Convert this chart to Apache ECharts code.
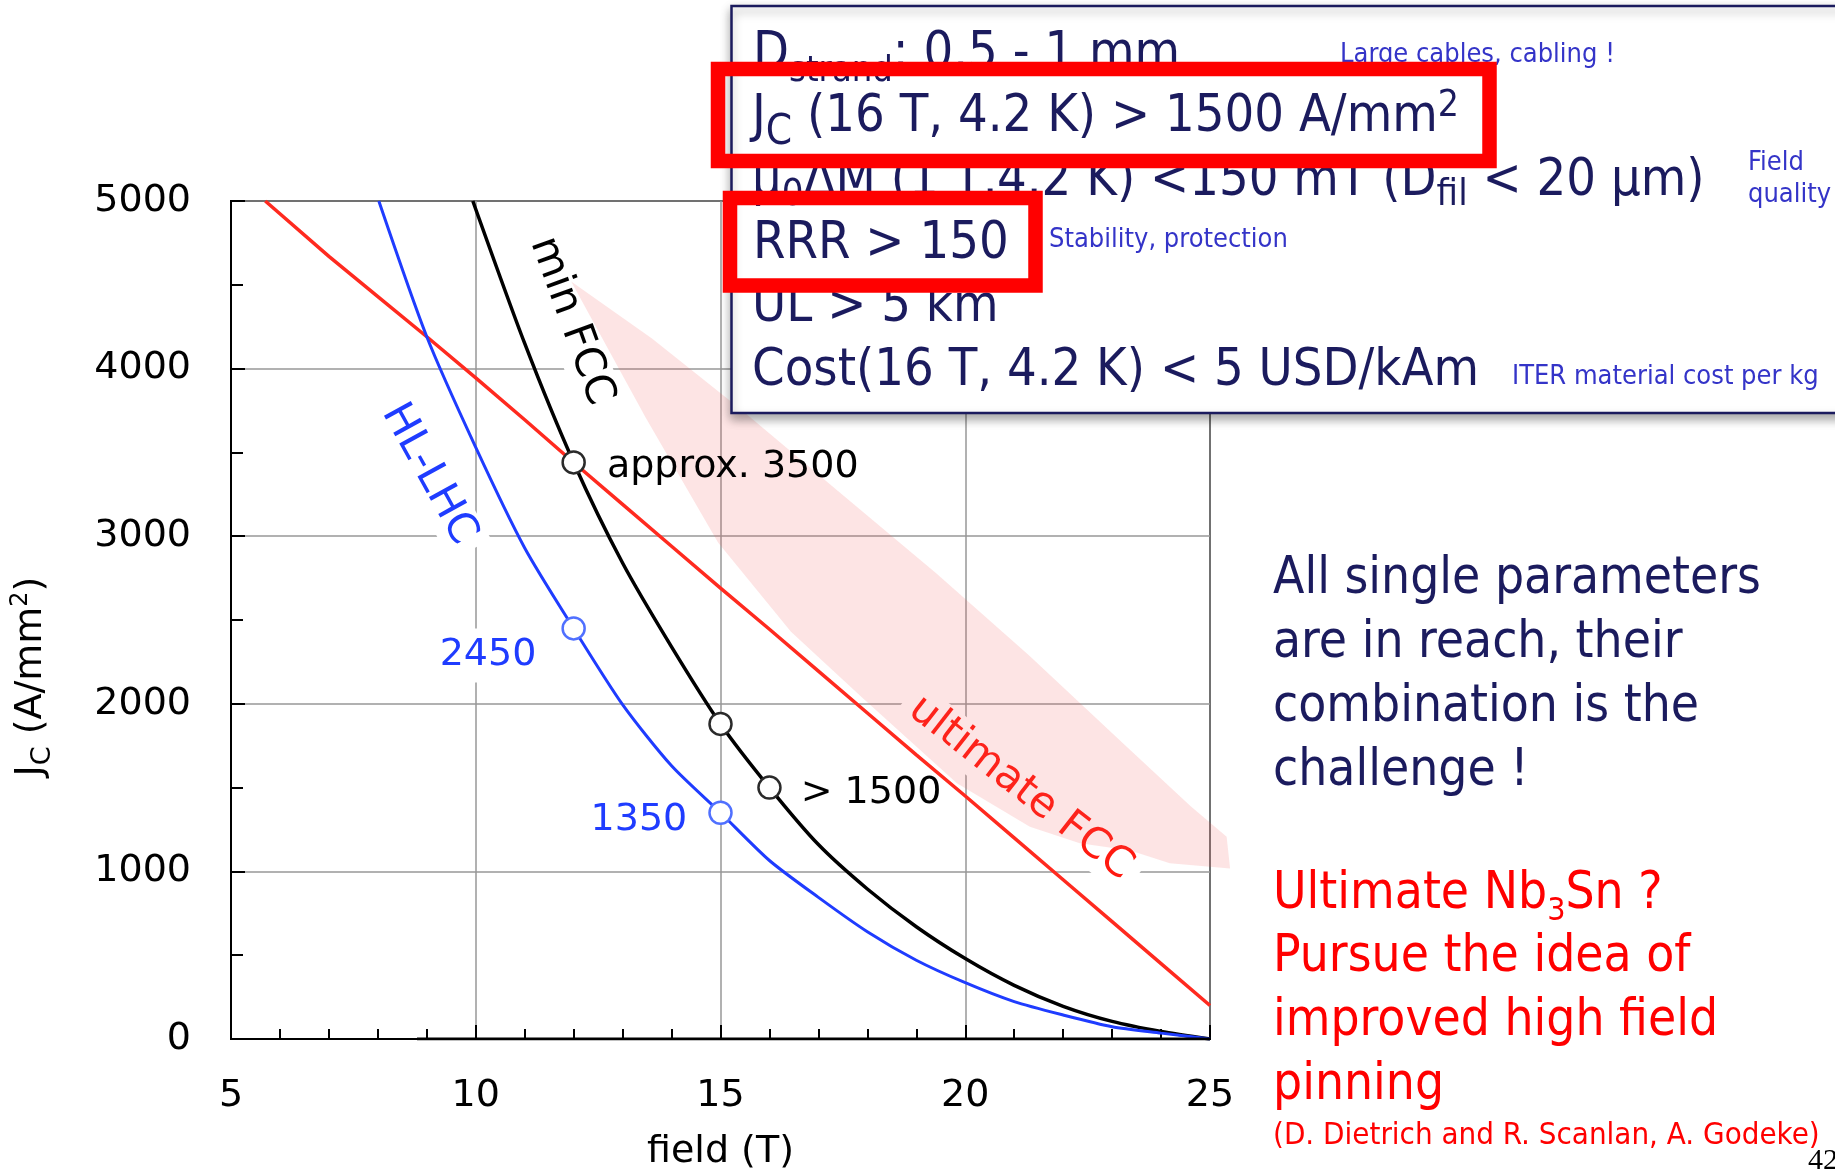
<!DOCTYPE html>
<html>
<head>
<meta charset="utf-8">
<title>Jc versus field</title>
<script src="https://cdn.jsdelivr.net/npm/echarts@6.0.0/dist/echarts.min.js"></script>
<style>
  html, body { margin: 0; padding: 0; background: #ffffff; }
  #chart { width: 1835px; height: 1173px; }
</style>
</head>
<body>
<div id="chart"></div>
<script>
// ---- data: critical current density Jc (A/mm2) versus field (T) ----
const redField   = [5.7, 7, 8, 9, 10, 11, 12, 13, 14, 15, 16, 17, 18, 19, 20, 21, 22, 23, 24, 25];
const redJc      = [5000, 4670, 4430, 4190, 3945, 3695, 3440, 3190, 2940, 2690, 2445, 2195, 1945, 1695, 1450, 1200, 950, 700, 450, 200];

const blackField = [9.94, 11, 12, 13, 14, 15, 16, 17, 18, 19, 20, 21, 22, 23, 24, 25];
const blackJc    = [5000, 4150, 3440, 2840, 2340, 1880, 1500, 1160, 895, 670, 480, 320, 195, 105, 45, 0];

const blueField  = [8.02, 9, 10, 11, 12, 13, 14, 15, 16, 17, 18, 19, 20, 21, 22, 23, 24, 25];
const blueJc     = [5000, 4190, 3530, 2930, 2450, 1995, 1630, 1350, 1065, 845, 640, 470, 336, 223, 143, 73, 35, 0];

// short trace lying on the field axis
const zeroField  = [8.8, 25];
const zeroJc     = [0, 0];

// shaded "ultimate" region (outline, clockwise from the upper tip)
const bandField  = [11.95, 13.6, 15.4, 17.4, 19.4, 21.3, 23.2, 24.6, 25.34, 25.41, 24.18, 23.37, 22.34, 21.32, 19.83, 17.92, 16.44, 14.95, 13.47];
const bandJc     = [4520, 4180, 3760, 3270, 2780, 2290, 1770, 1390, 1207, 1018, 1048, 1125, 1168, 1267, 1526, 2030, 2430, 2962, 3708];

// highlighted operating points
const blackMarkField = [12, 15, 16];
const blackMarkJc    = [3440, 1880, 1500];
const blackMarkText  = ['approx. 3500', '', '> 1500'];
const blueMarkField  = [12, 15];
const blueMarkJc     = [2450, 1350];
const blueMarkText   = ['2450', '1350'];

// curve names written along the curves
const curveNames     = ['min FCC', 'HL-LHC', 'ultimate FCC'];
const curveNameField = [11.95, 9.04, 21.13];
const curveNameJc    = [4283, 3370, 1496];

// axis ranges
const fieldRange = [5, 25, 5];
const jcRange    = [0, 5000, 1000];

// slide texts
const specNotes = ['Large cables, cabling !', 'Field', 'quality', 'Stability, protection', 'ITER material cost per kg'];
const summaryLines = ['All single parameters', 'are in reach, their', 'combination is the', 'challenge !'];
const outlookLines = ['Pursue the idea of', 'improved high field', 'pinning'];
const citation = '(D. Dietrich and R. Scanlan, A. Godeke)';
const pageNumber = '42';

// ---- drawing ----
const CHART_FONT = 'DejaVu Sans';
const SLIDE_FONT = 'DejaVu Sans Condensed';
const NAVY = '#1b1b5e';
const RED = '#ff2a1f';
const BLUE = '#1f3cff';
const NOTE_BLUE = '#3434c8';
const K = 0.3; // distance from the middle of a text line to its baseline, per px of font size

const pairs = (xs, ys) => xs.map((x, i) => [x, ys[i]]);

// rich-text styles for a main run plus optional lowered (s) / raised (p) runs
function richStyles(family, size, L, color, sub, sup) {
  const rich = { m: { fontFamily: family, fontSize: size, lineHeight: L, fill: color, color: color } };
  if (sub) {
    const h = L - 2 * K * (size - sub.size) - 2 * sub.drop;
    rich.s = { fontFamily: family, fontSize: sub.size, fill: color, color: color, verticalAlign: 'bottom', height: h, lineHeight: h };
  }
  if (sup) {
    const h = L + 2 * K * (size - sup.size) - 2 * sup.rise;
    rich.p = { fontFamily: family, fontSize: sup.size, fill: color, color: color, verticalAlign: 'top', height: h, lineHeight: h };
  }
  return rich;
}

// one line of slide text placed by its baseline; tokens: [[styleKey, text], ...]
function slideLine(x, baseline, tokens, s) {
  const L = Math.round(s.size * 2);
  return {
    type: 'text', x: x, y: baseline - (L / 2 + K * s.size), z: s.z || 101,
    style: {
      text: tokens.map(t => '{' + t[0] + '|' + t[1] + '}').join(''),
      rich: richStyles(s.family, s.size, L, s.color, s.sub, s.sup),
      align: 'left', verticalAlign: 'top'
    }
  };
}

const specStyle = { family: SLIDE_FONT, size: 52, color: NAVY, sub: { size: 42, drop: 13 }, sup: { size: 37, rise: 16 } };
const spec1Style = { family: SLIDE_FONT, size: 52, color: NAVY, sub: { size: 36, drop: 12 } };
const spec3Style = { family: SLIDE_FONT, size: 52, color: NAVY, sub: { size: 38, drop: 10 } };
const noteStyle = { family: SLIDE_FONT, size: 27, color: NOTE_BLUE };
const sumStyle  = { family: SLIDE_FONT, size: 51, color: NAVY, z: 100 };
const redStyle  = { family: SLIDE_FONT, size: 51, color: '#ff0000', z: 100, sub: { size: 32, drop: 11 } };

const graphics = [
  // specification box
  { type: 'rect', z: 99, shape: { x: 731.5, y: 6, width: 1200, height: 407 },
    style: { fill: '#ffffff', stroke: NAVY, lineWidth: 2.5, shadowBlur: 10, shadowOffsetY: 5, shadowColor: 'rgba(0,0,0,0.35)' } },
  slideLine(753, 70,  [['m', 'D'], ['s', 'strand'], ['m', ': 0.5 - 1 mm']], spec1Style),
  slideLine(752, 133, [['m', 'J'], ['s', 'C'], ['m', ' (16 T, 4.2 K) > 1500 A/mm'], ['p', '2']], specStyle),
  slideLine(752, 197, [['m', 'μ'], ['s', '0'], ['m', 'ΔM (1 T,4.2 K) <150 mT (D'], ['s', 'fil'], ['m', ' < 20 μm)']], spec3Style),
  slideLine(753, 260, [['m', 'RRR > 150']], specStyle),
  slideLine(752, 323, [['m', 'UL > 5 km']], specStyle),
  slideLine(752, 387, [['m', 'Cost(16 T, 4.2 K) < 5 USD/kAm']], specStyle),
  slideLine(1340, 63,  [['m', specNotes[0]]], noteStyle),
  slideLine(1748, 171, [['m', specNotes[1]]], noteStyle),
  slideLine(1748, 203, [['m', specNotes[2]]], noteStyle),
  slideLine(1049, 248, [['m', specNotes[3]]], noteStyle),
  slideLine(1512, 385, [['m', specNotes[4]]], noteStyle),
  // red highlight frames
  { type: 'rect', z: 102, shape: { x: 718, y: 69, width: 771.5, height: 92 },
    style: { fill: 'none', stroke: '#ff0000', lineWidth: 14.5 } },
  { type: 'rect', z: 102, shape: { x: 730, y: 198, width: 305.5, height: 87.5 },
    style: { fill: 'none', stroke: '#ff0000', lineWidth: 14.5 } },
  // conclusions on the right
  ...summaryLines.map((t, i) => slideLine(1273, 595 + i * 64, [['m', t]], sumStyle)),
  slideLine(1273, 910, [['m', 'Ultimate Nb'], ['s', '3'], ['m', 'Sn ?']], redStyle),
  ...outlookLines.map((t, i) => slideLine(1273, 973 + i * 64, [['m', t]], redStyle)),
  slideLine(1273, 1145, [['m', citation]], { family: SLIDE_FONT, size: 31, color: '#ff0000', z: 100 }),
  slideLine(1808, 1170, [['m', pageNumber]], { family: 'Liberation Serif', size: 30, color: '#000000', z: 100 })
];

const markLabel = {
  'approx. 3500': { position: 'right', distance: 21, offset: [0, 5] },
  '> 1500':       { position: 'right', distance: 19, offset: [0, 6] },
  '2450':         { position: 'left',  distance: 21, offset: [0, 27], backgroundColor: '#ffffff', padding: [8, 4] },
  '1350':         { position: 'left',  distance: 21, offset: [0, 7] }
};
const nameRotate = { 'min FCC': -70, 'HL-LHC': -61, 'ultimate FCC': -38 };
const nameColor  = { 'min FCC': '#000000', 'HL-LHC': BLUE, 'ultimate FCC': '#ff1a10' };

function markData(xs, ys, texts, color) {
  return xs.map((x, i) => ({
    value: [x, ys[i]],
    label: Object.assign({ show: texts[i] !== '', formatter: texts[i], color: color, opacity: 1,
                           fontFamily: CHART_FONT, fontSize: 38 }, markLabel[texts[i]] || {})
  }));
}

const chart = echarts.init(document.getElementById('chart'), null, { renderer: 'canvas' });

const axisName = richStyles(CHART_FONT, 38, 60, '#000', { size: 27, drop: 9 }, { size: 24, rise: 14 });

chart.setOption({
  animation: false,
  backgroundColor: '#ffffff',
  textStyle: { fontFamily: CHART_FONT },
  grid: {
    left: 231, top: 201, width: 979, height: 838,
    show: true, borderColor: '#000000', borderWidth: 2, backgroundColor: 'rgba(0,0,0,0)',
    containLabel: false, outerBoundsMode: 'none'
  },
  xAxis: {
    type: 'value', min: fieldRange[0], max: fieldRange[1], interval: fieldRange[2],
    name: 'field (T)', nameLocation: 'middle', nameGap: 90, nameMoveOverlap: false,
    nameTextStyle: { fontFamily: CHART_FONT, fontSize: 38, color: '#000', lineHeight: 46 },
    axisLine: { show: true, onZero: false, lineStyle: { color: '#000', width: 2 } },
    axisTick: { show: true, inside: true, length: 14, lineStyle: { color: '#000', width: 2 } },
    minorTick: { show: true, splitNumber: 5, length: 10, lineStyle: { color: '#000', width: 2 } },
    splitLine: { show: true, lineStyle: { color: '#979797', width: 1.5 } },
    axisLabel: { fontFamily: CHART_FONT, fontSize: 38, color: '#000', margin: 34, lineHeight: 46,
                 formatter: v => String(v) }
  },
  yAxis: {
    type: 'value', min: jcRange[0], max: jcRange[1], interval: jcRange[2],
    name: '{m|J}{s|C}{m| (A/mm}{p|2}{m|)}', nameLocation: 'middle', nameRotate: 90, nameGap: 170, nameMoveOverlap: false,
    nameTextStyle: { padding: [0, 113, 0, 0], rich: axisName },
    axisLine: { show: true, onZero: false, lineStyle: { color: '#000', width: 2 } },
    axisTick: { show: true, inside: true, length: 14, lineStyle: { color: '#000', width: 2 } },
    minorTick: { show: true, splitNumber: 2, length: 12, lineStyle: { color: '#000', width: 2 } },
    splitLine: { show: true, lineStyle: { color: '#979797', width: 1.5 } },
    axisLabel: { fontFamily: CHART_FONT, fontSize: 38, color: '#000', margin: 40, padding: [12, 0, 0, 0],
                 formatter: v => String(v) }
  },
  series: [
    {
      // curve names, each on a white plate
      type: 'scatter', name: 'curve names', z: 2, silent: true, symbolSize: 0,
      itemStyle: { opacity: 1 },
      data: curveNames.map((n, i) => ({
        name: n, value: [curveNameField[i], curveNameJc[i]],
        label: { rotate: nameRotate[n], color: nameColor[n] }
      })),
      label: {
        show: true, position: 'inside', formatter: '{b}', fontFamily: CHART_FONT, fontSize: 42, opacity: 1,
        backgroundColor: '#ffffff', padding: [2, 10]
      }
    },
    {
      type: 'custom', name: 'ultimate region', z: 3, silent: true, clip: false,
      data: [[bandField[0], bandJc[0]]],
      renderItem: (params, api) => ({
        type: 'polygon',
        shape: { points: bandField.map((x, i) => api.coord([x, bandJc[i]])) },
        style: { fill: 'rgba(245,90,90,0.16)' }
      })
    },
    {
      type: 'line', name: 'ultimate FCC', z: 4, data: pairs(redField, redJc),
      showSymbol: false, symbol: 'none', lineStyle: { color: RED, width: 3.5 }
    },
    {
      type: 'line', name: 'min FCC', z: 4, data: pairs(blackField, blackJc), smooth: 0.25,
      showSymbol: false, symbol: 'none', lineStyle: { color: '#000', width: 3.5 }
    },
    {
      type: 'line', name: 'HL-LHC', z: 4, data: pairs(blueField, blueJc), smooth: 0.25,
      showSymbol: false, symbol: 'none', lineStyle: { color: BLUE, width: 3 }
    },
    {
      type: 'line', name: 'zero trace', z: 4, data: pairs(zeroField, zeroJc),
      showSymbol: false, symbol: 'none', lineStyle: { color: '#000', width: 3 }
    },
    {
      type: 'scatter', name: 'min FCC points', z: 5, symbol: 'circle', symbolSize: 22,
      itemStyle: { color: '#ffffff', borderColor: '#2a2a2a', borderWidth: 2.5, opacity: 1 },
      data: markData(blackMarkField, blackMarkJc, blackMarkText, '#000000')
    },
    {
      type: 'scatter', name: 'HL-LHC points', z: 5, symbol: 'circle', symbolSize: 22,
      itemStyle: { color: '#ffffff', borderColor: '#5070ff', borderWidth: 2.5, opacity: 1 },
      data: markData(blueMarkField, blueMarkJc, blueMarkText, BLUE)
    }
  ],
  graphic: { elements: graphics }
});
</script>
</body>
</html>
